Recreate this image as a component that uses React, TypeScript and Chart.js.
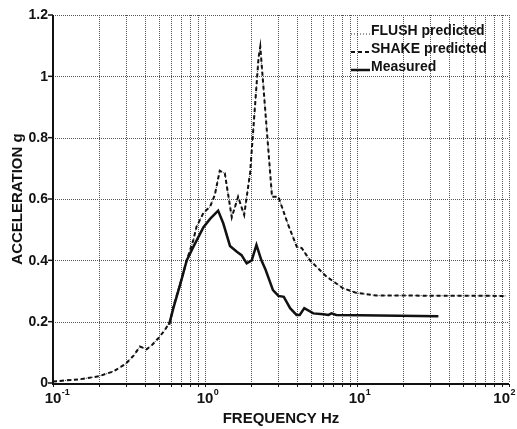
import { useEffect, useRef } from "react";
import { Chart, registerables } from "chart.js";

Chart.register(...registerables);

// ---- data ----
const shakeFreq = [0.1, 0.15, 0.2, 0.25, 0.3, 0.34, 0.373, 0.413, 0.45, 0.493, 0.54, 0.589, 0.62, 0.684, 0.758, 0.838, 0.88, 0.977, 1.08, 1.16, 1.25, 1.35, 1.5, 1.65, 1.81, 1.98, 2.25, 2.31, 2.76, 3.04, 3.5, 4.02, 4.33, 4.9, 6.3, 8.1, 9.9, 13.5, 22.3, 95];
const shakeAcc = [0.005, 0.012, 0.022, 0.038, 0.062, 0.09, 0.119, 0.11, 0.125, 0.146, 0.17, 0.2, 0.25, 0.32, 0.4, 0.466, 0.51, 0.555, 0.575, 0.613, 0.692, 0.684, 0.54, 0.607, 0.548, 0.685, 1.06, 1.097, 0.607, 0.607, 0.52, 0.444, 0.44, 0.4, 0.347, 0.309, 0.294, 0.285, 0.285, 0.284];
const flushFreq = [0.1, 0.15, 0.2, 0.25, 0.3, 0.34, 0.373, 0.413, 0.45, 0.493, 0.54, 0.589, 0.62, 0.684, 0.758, 0.838, 0.88, 0.977, 1.08, 1.16, 1.25, 1.35, 1.5, 1.65, 1.81, 1.98, 2.25, 2.31, 2.76, 3.04, 3.5, 4.02, 4.33, 4.9, 6.3, 8.1, 9.9, 13.5, 22.3, 95];
const flushAcc = [0.005, 0.012, 0.022, 0.038, 0.062, 0.09, 0.119, 0.11, 0.125, 0.146, 0.17, 0.2, 0.25, 0.32, 0.4, 0.466, 0.51, 0.555, 0.575, 0.613, 0.692, 0.684, 0.54, 0.607, 0.548, 0.685, 1.06, 1.097, 0.607, 0.607, 0.52, 0.444, 0.44, 0.4, 0.347, 0.309, 0.294, 0.285, 0.285, 0.284];
const measuredFreq = [0.58, 0.62, 0.70, 0.758, 0.838, 0.977, 1.08, 1.22, 1.32, 1.46, 1.62, 1.74, 1.88, 2.03, 2.18, 2.35, 2.5, 2.8, 3.04, 3.3, 3.63, 4.0, 4.2, 4.5, 5.16, 6.0, 6.5, 6.8, 7.3, 10.4, 34.3];
const measuredAcc = [0.19, 0.245, 0.336, 0.4, 0.444, 0.508, 0.535, 0.562, 0.52, 0.447, 0.428, 0.417, 0.39, 0.4, 0.45, 0.4, 0.37, 0.303, 0.284, 0.281, 0.244, 0.222, 0.222, 0.244, 0.227, 0.224, 0.222, 0.227, 0.222, 0.221, 0.218];

const seriesLabels = ["FLUSH predicted", "SHAKE predicted", "Measured"];
const yTickValues = [0, 0.2, 0.4, 0.6, 0.8, 1, 1.2];
const yTickLabels = ["0", "0.2", "0.4", "0.6", "0.8", "1", "1.2"];
const decadeExponents = [-1, 0, 1, 2];
const minorMultipliers = [1, 2, 3, 4, 5, 6, 7, 8, 9];
const xTitle = "FREQUENCY Hz";
const yTitle = "ACCELERATION g";

const FONT = '"Liberation Sans", Arial, Helvetica, sans-serif';
const INK = "#111";

const toPoints = (xs: number[], ys: number[]) => xs.map((x, i) => ({ x, y: ys[i] }));

const decorPlugin = {
  id: "decor",
  beforeDatasetsDraw(chart: any) {
    const { ctx, chartArea: a, scales } = chart;
    const xs = scales.x;
    const ys = scales.y;
    ctx.save();
    // grid
    ctx.strokeStyle = "#555";
    ctx.lineWidth = 1;
    ctx.setLineDash([1, 1]);
    const gridX: number[] = [];
    decadeExponents.forEach((e) => {
      if (e < 2) minorMultipliers.forEach((m) => gridX.push(m * Math.pow(10, e)));
      else gridX.push(Math.pow(10, e));
    });
    gridX.forEach((v) => {
      if (v <= 0.1) return;
      const x = Math.round(xs.getPixelForValue(v)) + 0.5;
      ctx.beginPath();
      ctx.moveTo(x, a.top);
      ctx.lineTo(x, a.bottom);
      ctx.stroke();
    });
    yTickValues.forEach((v) => {
      if (v === 0) return;
      const y = Math.round(ys.getPixelForValue(v)) + 0.5;
      ctx.beginPath();
      ctx.moveTo(a.left, y);
      ctx.lineTo(a.right, y);
      ctx.stroke();
    });
    ctx.setLineDash([]);
    // axes
    ctx.strokeStyle = INK;
    ctx.lineWidth = 2;
    ctx.beginPath();
    ctx.moveTo(a.left, a.top);
    ctx.lineTo(a.left, a.bottom + 1);
    ctx.lineTo(a.right, a.bottom + 1);
    ctx.stroke();
    // y ticks + labels
    ctx.lineWidth = 1.5;
    ctx.fillStyle = INK;
    ctx.font = `bold 14px ${FONT}`;
    ctx.textAlign = "right";
    ctx.textBaseline = "middle";
    yTickValues.forEach((v, i) => {
      const y = ys.getPixelForValue(v);
      ctx.beginPath();
      ctx.moveTo(a.left - 5, y);
      ctx.lineTo(a.left, y);
      ctx.stroke();
      ctx.fillText(yTickLabels[i], a.left - 5, y + 0.5);
    });
    // x minor ticks
    ctx.lineWidth = 1;
    gridX.forEach((v) => {
      const x = Math.round(xs.getPixelForValue(v)) + 0.5;
      ctx.beginPath();
      ctx.moveTo(x, a.bottom + 1);
      ctx.lineTo(x, a.bottom + 4);
      ctx.stroke();
    });
    // x labels 10^e
    ctx.textAlign = "left";
    ctx.textBaseline = "alphabetic";
    decadeExponents.forEach((e) => {
      const x = xs.getPixelForValue(Math.pow(10, e));
      ctx.font = `bold 15px ${FONT}`;
      const w10 = ctx.measureText("10").width;
      ctx.font = `bold 9px ${FONT}`;
      const sup = String(e);
      const ws = ctx.measureText(sup).width;
      let start = x - w10 / 2;
      if (start + w10 + ws > chart.width - 2) start = chart.width - 2 - w10 - ws;
      ctx.font = `bold 15px ${FONT}`;
      ctx.fillText("10", start, 403);
      ctx.font = `bold 9px ${FONT}`;
      ctx.fillText(sup, start + w10 + 0.5, 395);
    });
    // titles
    ctx.font = `bold 15px ${FONT}`;
    ctx.textAlign = "center";
    ctx.fillText(xTitle, (a.left + a.right) / 2, 423);
    ctx.save();
    ctx.translate(22, (a.top + a.bottom) / 2);
    ctx.rotate(-Math.PI / 2);
    ctx.fillText(yTitle, 0, 0);
    ctx.restore();
    ctx.restore();
  },
  afterDatasetsDraw(chart: any) {
    const { ctx } = chart;
    ctx.save();
    const baselines = [35, 53, 71];
    chart.data.datasets.forEach((ds: any, i: number) => {
      const yb = baselines[i];
      ctx.strokeStyle = ds.borderColor;
      ctx.lineWidth = ds.borderWidth;
      ctx.setLineDash(ds.borderDash || []);
      ctx.beginPath();
      ctx.moveTo(351, yb - 1);
      ctx.lineTo(370, yb - 1);
      ctx.stroke();
      ctx.setLineDash([]);
      ctx.fillStyle = INK;
      ctx.font = `bold 14px ${FONT}`;
      ctx.textAlign = "left";
      ctx.textBaseline = "alphabetic";
      ctx.fillText(ds.label, 371, yb);
    });
    ctx.restore();
  },
};

export default function App() {
  const ref = useRef<HTMLCanvasElement | null>(null);
  useEffect(() => {
    if (!ref.current) return;
    const chart = new Chart(ref.current, {
      type: "line",
      data: {
        datasets: [
          {
            label: seriesLabels[0],
            data: toPoints(flushFreq, flushAcc),
            borderColor: "#333",
            borderWidth: 1,
            borderDash: [1, 2],
            pointRadius: 0,
            tension: 0,
            order: 3,
          },
          {
            label: seriesLabels[1],
            data: toPoints(shakeFreq, shakeAcc),
            borderColor: INK,
            borderWidth: 2,
            borderDash: [4, 3],
            pointRadius: 0,
            tension: 0,
            order: 2,
          },
          {
            label: seriesLabels[2],
            data: toPoints(measuredFreq, measuredAcc),
            borderColor: INK,
            borderWidth: 2.5,
            pointRadius: 0,
            tension: 0,
            order: 1,
          },
        ],
      },
      options: {
        animation: false,
        responsive: false,
        devicePixelRatio: 1,
        parsing: true,
        layout: { padding: { left: 53, top: 15, right: 8, bottom: 46 } },
        scales: {
          x: { type: "logarithmic", min: 0.1, max: 100, display: false },
          y: { type: "linear", min: 0, max: 1.2, display: false },
        },
        plugins: { legend: { display: false }, tooltip: { enabled: false } },
      },
      plugins: [decorPlugin],
    } as any);
    return () => chart.destroy();
  }, []);
  return (
    <div style={{ position: "fixed", left: 0, top: 0, width: 517, height: 429, background: "#fff" }}>
      <canvas ref={ref} width={517} height={429} />
    </div>
  );
}
